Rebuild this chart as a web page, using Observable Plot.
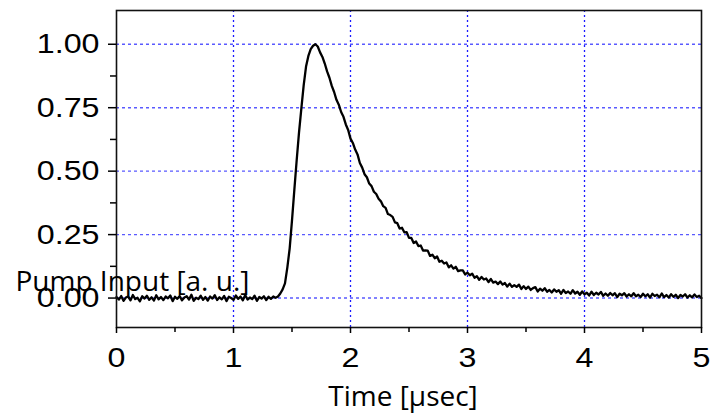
<!DOCTYPE html>
<html><head><meta charset="utf-8">
<script src="https://cdn.jsdelivr.net/npm/d3@7"></script>
<script src="https://cdn.jsdelivr.net/npm/@observablehq/plot@0.6"></script>
<style>body{margin:0;background:#fff}</style>
</head><body>
<script>
const xLabel = "Time [µsec]";
const yLabel = "Pump Input [a. u.]";
const xTicks = [0, 1, 2, 3, 4, 5];
const xMinorTicks = [0.5, 1.5, 2.5, 3.5, 4.5];
const yTicks = [0, 0.25, 0.5, 0.75, 1];
const yMinorTicks = [0.125, 0.375, 0.625, 0.875];
const xGrid = [1, 2, 3, 4];
const yGrid = [0, 0.25, 0.5, 0.75, 1];

// sampled trace (µs, a.u.), sample step 0.02 µs
const sampleStep = 0.02;
const baselineStart = 0.00;
const baselineValues = [
  0.004,-0.006,0.008,-0.011,0.002,0.006,-0.009,0.012,-0.004,0.001,-0.013,0.007,-0.002,0.009,-0.007,0.003,-0.010,0.011,-0.005,0.004,
  -0.008,0.006,-0.001,0.010,-0.012,0.005,-0.003,0.008,-0.009,0.002,0.007,-0.006,0.013,-0.011,0.001,-0.004,0.009,-0.007,0.004,-0.010,
  0.006,-0.002,0.011,-0.008,0.003,-0.005,0.008,-0.012,0.005,0.000,-0.007,0.010,-0.003,0.006,-0.009,0.012,-0.006,0.002,-0.004,0.009,
  -0.011,0.004,-0.002,0.007,-0.008,0.005,-0.003,0.006,0.001
];
const riseStart = 1.38;
const riseValues = [0.006,0.018,0.034,0.058,0.120,0.195,0.306,0.426,0.543,0.653,0.747,0.839,0.912,0.954,0.981,0.994,1.000];
const decayStart = 1.72;
const decayValues = [
  0.991,0.968,0.950,0.924,0.893,0.868,0.836,0.812,0.781,0.762,0.733,0.714,0.684,0.662,0.628,0.611,0.585,0.566,0.532,
  0.514,0.488,0.476,0.451,0.441,0.419,0.410,0.391,0.381,0.362,0.355,0.331,0.327,0.320,0.298,0.295,0.274,0.277,0.259,0.260,
  0.237,0.237,0.217,0.223,0.205,0.207,0.187,0.188,0.187,0.166,0.171,0.157,0.164,0.143,0.147,0.136,0.140,0.121,0.129,0.116,
  0.123,0.106,0.109,0.109,0.093,0.100,0.090,0.096,0.080,0.086,0.072,0.083,0.073,0.077,0.063,0.075,0.061,0.065,0.055,0.065,
  0.053,0.059,0.045,0.057,0.044,0.051,0.044,0.053,0.036,0.047,0.036,0.045,0.032,0.039,0.043,0.026,0.037,0.029,0.039,0.025,
  0.032,0.022,0.034,0.025,0.031,0.017,0.032,0.020,0.026,0.017,0.031,0.018,0.025,0.013,0.026,0.015,0.021,0.010,0.025,0.012,
  0.021,0.014,0.024,0.009,0.018,0.009,0.020,0.011,0.019,0.004,0.017,0.011,0.019,0.006,0.015,0.007,0.019,0.007,0.013,0.004,
  0.017,0.007,0.015,0.002,0.017,0.008,0.013,0.003,0.018,0.004,0.012,0.002,0.015,0.005,0.013,0.000,0.012,0.006,0.015,0.002,
  0.011,0.003,0.014,0.004,0.009,0.000
];

function segment(start, values) {
  return values.map((v, i) => ({t: +(start + i * sampleStep).toFixed(3), v}));
}
const trace = [
  ...segment(baselineStart, baselineValues),
  ...segment(riseStart, riseValues),
  ...segment(decayStart, decayValues)
];

const tickFont = "Liberation Sans, Arial, sans-serif";
const labelFont = "Open Sans, Noto Sans, sans-serif";
const blank = () => "";

const chart = Plot.plot({
  width: 710,
  height: 414,
  marginLeft: 116,
  marginRight: 9,
  marginTop: 10,
  marginBottom: 87,
  style: {background: "#fff", color: "#000", overflow: "visible", fontFamily: tickFont},
  x: {domain: [0, 5], label: null, axis: null},
  y: {domain: [-0.116, 1.133], label: null, axis: null},
  marks: [
    Plot.ruleY(yGrid, {stroke: "#5a5aff", strokeWidth: 1.4, strokeDasharray: "3,3"}),
    Plot.ruleX(xGrid, {stroke: "#1a1aff", strokeWidth: 1.3, strokeDasharray: "2,3"}),
    Plot.line(trace, {x: "t", y: "v", stroke: "#000", strokeWidth: 2.3, strokeLinejoin: "round"}),
    Plot.frame({stroke: "#111", strokeWidth: 1.6}),
    Plot.axisX(xMinorTicks, {tickSize: 5, strokeWidth: 1.5, color: "#000", tickFormat: blank, label: null}),
    Plot.axisY(yMinorTicks, {tickSize: 6, strokeWidth: 1.5, color: "#000", tickFormat: blank, label: null}),
    Plot.axisX(xTicks, {tickSize: 6, tickPadding: 14, strokeWidth: 1.5, color: "#000", fontSize: 28, fontFamily: tickFont, tickFormat: d3.format("d"), label: null}),
    Plot.axisY(yTicks, {tickSize: 8, tickPadding: 9, strokeWidth: 1.5, color: "#000", fontSize: 28, fontFamily: tickFont, tickFormat: d3.format(".2f"), label: null}),
    Plot.text([xLabel], {text: d => d, frameAnchor: "bottom", textAnchor: "middle", lineAnchor: "bottom", dx: -6, dy: 78, fontSize: 28, fontFamily: labelFont, fill: "#000"}),
    Plot.text([yLabel], {text: d => d, frameAnchor: "bottom-left", textAnchor: "start", lineAnchor: "bottom", dx: -101, dy: -37, fontSize: 28, fontFamily: labelFont, fill: "#000"})
  ]
});
document.body.append(chart);

// widen the tick-label glyphs slightly, as in the original rendering
try {
  chart.querySelectorAll('g[aria-label$="tick label"] text').forEach(t => {
    const w = t.getComputedTextLength();
    if (w > 0) {
      t.setAttribute("textLength", (w * 1.15).toFixed(1));
      t.setAttribute("lengthAdjust", "spacingAndGlyphs");
    }
  });
} catch (e) {}
</script>
</body></html>
